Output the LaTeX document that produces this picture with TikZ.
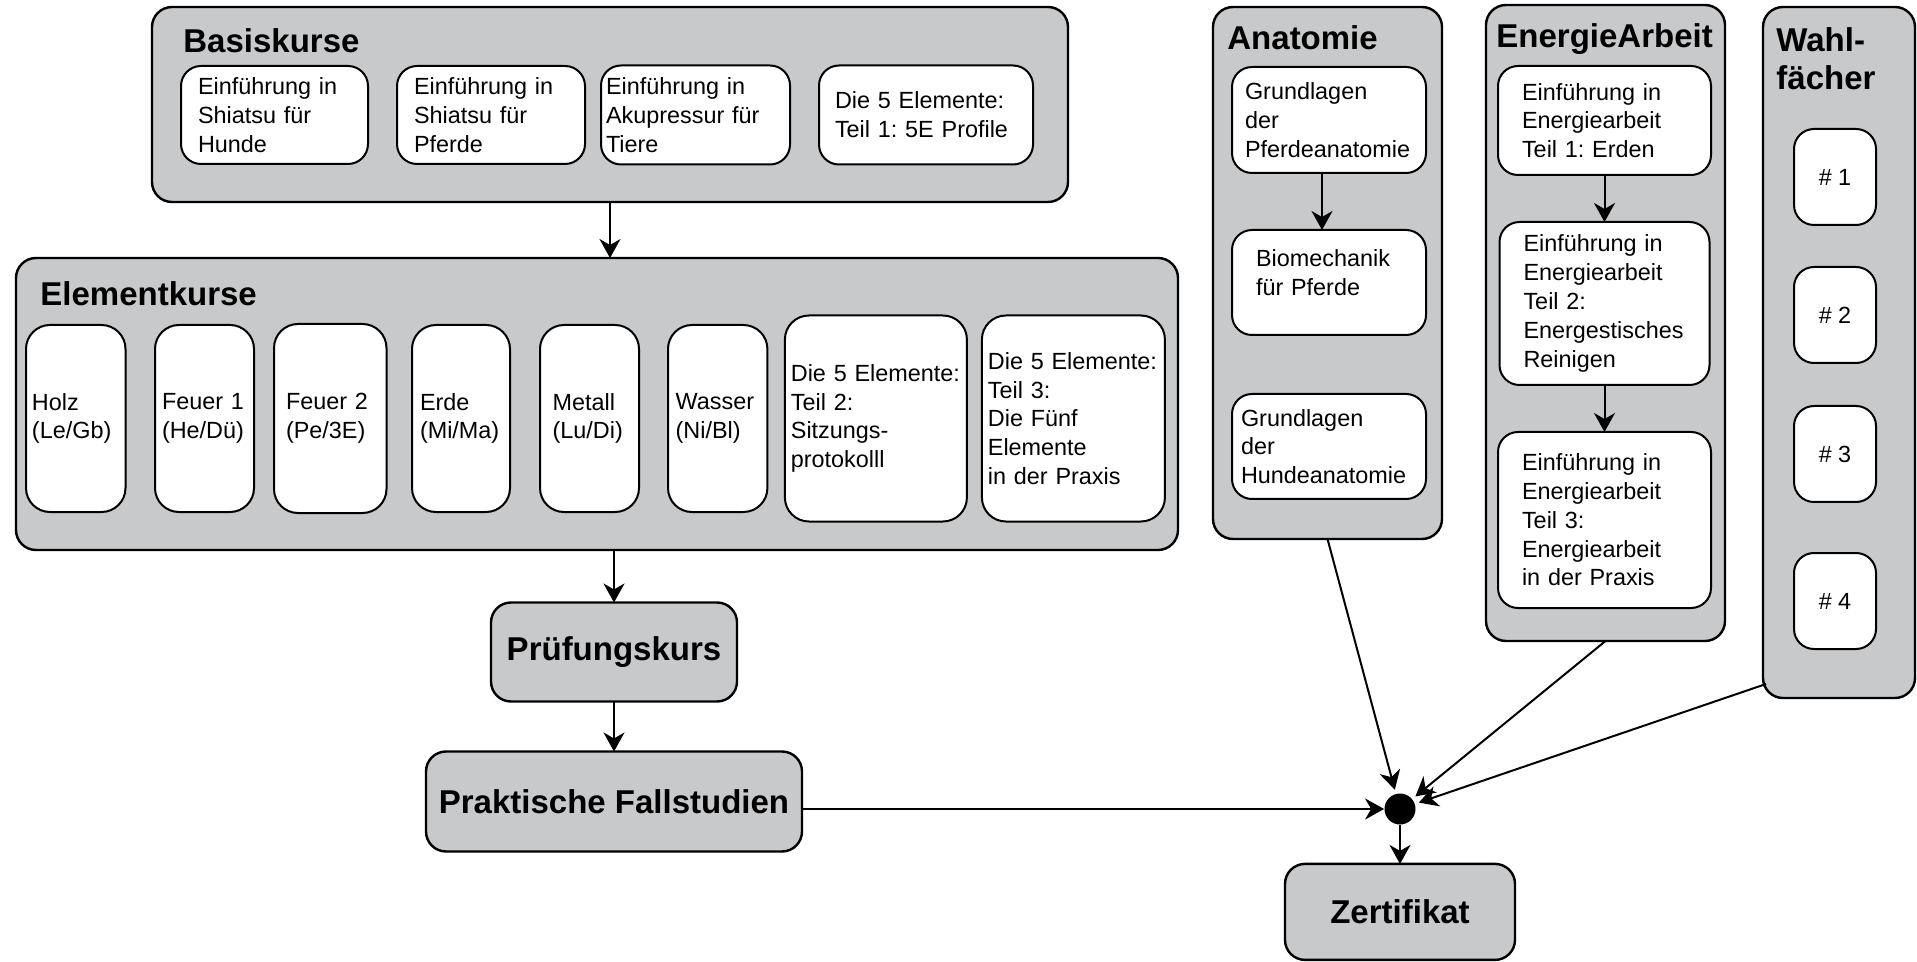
\documentclass[tikz,border=0pt]{standalone}
\usepackage{fontspec}
\setmainfont{Liberation Sans}
\frenchspacing
\definecolor{boxgray}{rgb}{0.784,0.788,0.796}
\usetikzlibrary{arrows.meta, positioning, calc}
\newcommand{\kursfont}{\fontsize{11.7}{14.4}\selectfont}
\newcommand{\titelfont}{\fontsize{16.5}{19}\selectfont\bfseries}
\tikzset{
  group/.style={rectangle, rounded corners=10pt, draw=black, fill=boxgray, line width=1.2pt, outer sep=0pt},
  grouptitle/.style={font=\titelfont, inner sep=0pt, anchor=base west, align=left},
  course/.style={rectangle, rounded corners=10pt, draw=black, fill=white, line width=1pt, outer sep=0pt, font=\kursfont, align=left},
  tallcourse/.style={course, rounded corners=12pt},
  stage/.style={rectangle, rounded corners=10pt, draw=black, fill=boxgray, line width=1.2pt, outer sep=0pt, font=\titelfont, align=center},
  junction/.style={circle, fill=black, inner sep=0pt, minimum size=15.5pt},
  arrow/.style={line width=1pt, -{Stealth[length=9.5pt, width=10.5pt, inset=3pt]}}
}

\begin{document}
\begin{tikzpicture}[x=0.5pt, y=-0.5pt]
  \useasboundingbox (0,0) rectangle (1917,962);

  % Basiskurse
  \node (basis) [group, minimum width=458pt, minimum height=97.5pt] at (610,104.5) {};
  \node (basistitle) [grouptitle] at (183,53) {Basiskurse};
  \node (hunde) [course, text width=76.5pt, inner xsep=8.5pt, minimum height=49pt] at (274.5,115) {Einführung in\\Shiatsu für\\Hunde};
  \node (pferde) [course, text width=77pt, inner xsep=8.5pt, minimum height=49pt, right=14.5pt of hunde] {Einführung in\\Shiatsu für\\Pferde};
  \node (tiere) [course, text width=89.5pt, inner xsep=2.5pt, minimum height=49.5pt, right=8pt of pferde] {Einführung in\\Akupressur für\\Tiere};
  \node (profile) [course, text width=91pt, inner xsep=8pt, minimum height=49.5pt, right=14.5pt of tiere] {Die 5 Elemente:\\Teil 1: 5E Profile};

  % Elementkurse
  \node (elemente) [group, minimum width=581pt, minimum height=146pt] at (597,404) {};
  \node (elementetitle) [grouptitle] at (40,305.5) {Elementkurse};
  \node (holz) [tallcourse, text width=43.75pt, inner xsep=3pt, minimum height=93.5pt] at (75.75,418.5) {Holz\\(Le/Gb)};
  \node (feuer1) [tallcourse, text width=42.5pt, inner xsep=3.5pt, minimum height=93.5pt, right=14.75pt of holz] {Feuer 1\\(He/Dü)};
  \node (feuer2) [tallcourse, text width=44.25pt, inner xsep=6pt, minimum height=94.5pt, right=10pt of feuer1] {Feuer 2\\(Pe/3E)};
  \node (erde) [tallcourse, text width=41pt, inner xsep=4pt, minimum height=93.5pt, right=12.75pt of feuer2] {Erde\\(Mi/Ma)};
  \node (metall) [tallcourse, text width=36.9pt, inner xsep=6.3pt, minimum height=93.5pt, right=15pt of erde] {Metall\\(Lu/Di)};
  \node (wasser) [tallcourse, text width=42pt, inner xsep=3.85pt, minimum height=93.5pt, right=14.5pt of metall] {Wasser\\(Ni/Bl)};
  \node (teil2) [tallcourse, text width=85pt, inner xsep=3pt, minimum height=103pt, right=8.75pt of wasser] {Die 5 Elemente:\\Teil 2:\\Sitzungs-\\protokolll};
  \node (teil3) [tallcourse, text width=85.5pt, inner xsep=3pt, minimum height=103pt, right=7.5pt of teil2] {Die 5 Elemente:\\Teil 3:\\Die Fünf\\Elemente\\in der Praxis};

  % Connections down the left column
  \draw [arrow] (basis.south) -- (basis.south |- elemente.north);

  \node (pruef) [stage, minimum width=123pt, minimum height=49.5pt] at (614,652) {Prüfungskurs};
  \node (praxis) [stage, minimum width=188pt, minimum height=50pt, below=25pt of pruef] {Praktische Fallstudien};

  \draw [arrow] (elemente.south -| pruef.north) -- (pruef.north);
  \draw [arrow] (pruef) -- (praxis);

  % Anatomie
  \node (anatomie) [group, minimum width=114.5pt, minimum height=266pt] at (1327.5,273) {};
  \node (anatomietitle) [grouptitle] at (1227,50) {Anatomie};
  \node (pferdeanat) [course, text width=84pt, inner xsep=6.5pt, minimum height=53pt] at (1329,120) {Grundlagen\\der\\Pferdeanatomie};
  \node (biomech) [course, text width=73pt, inner xsep=12pt, minimum height=52.5pt, below=28.5pt of pferdeanat] {Biomechanik\\für Pferde\\[-4.5pt]\mbox{}};
  \node (hundeanat) [course, text width=88pt, inner xsep=4.5pt, minimum height=52.5pt, below=29.5pt of biomech] {Grundlagen\\der\\Hundeanatomie};

  \draw [arrow] ([xshift=-3.5pt]pferdeanat.south) -- ([xshift=-3.5pt]biomech.north);

  % EnergieArbeit
  \node (energie) [group, minimum width=119.5pt, minimum height=318pt] at (1605.5,323) {};
  \node (energietitle) [grouptitle] at (1496,47.5) {EnergieArbeit};
  \node (erden) [course, text width=82.5pt, inner xsep=12pt, minimum height=54.5pt] at (1604.5,120.5) {Einführung in\\Energiearbeit\\Teil 1: Erden};
  \node (reinigen) [course, text width=81pt, inner xsep=12pt, minimum height=81.5pt, below=23.5pt of erden] {Einführung in\\Energiearbeit\\Teil 2:\\Energestisches\\Reinigen};
  \node (energiepraxis) [course, text width=82.5pt, inner xsep=12pt, minimum height=88pt, below=23.5pt of reinigen] {Einführung in\\Energiearbeit\\Teil 3:\\Energiearbeit\\in der Praxis};

  \draw [arrow] (erden) -- (reinigen);
  \draw [arrow] (reinigen) -- (energiepraxis);

  % Wahlfaecher
  \node (wahl) [group, minimum width=76pt, minimum height=345.5pt] at (1839,352.5) {};
  \node (wahltitle) [grouptitle, anchor=north west] at (1776,27.5) {Wahl-\\fächer};
  \node (wahl1) [course, align=center, minimum width=41pt, minimum height=48pt] at (1835,177) {\# 1};
  \node (wahl2) [course, align=center, minimum width=41pt, minimum height=48pt, below=21pt of wahl1] {\# 2};
  \node (wahl3) [course, align=center, minimum width=41pt, minimum height=48pt, below=21.5pt of wahl2] {\# 3};
  \node (wahl4) [course, align=center, minimum width=41pt, minimum height=48pt, below=25.5pt of wahl3] {\# 4};

  % Junction and certificate
  \node (knoten) [junction] at (1400,809) {};
  \node (zert) [stage, minimum width=115pt, minimum height=48pt, below=19.5pt of knoten] {Zertifikat};

  \draw [arrow] (praxis.east |- knoten) -- (knoten);
  \draw [arrow, shorten >=2pt] (anatomie.south) -- (knoten);
  \draw [arrow, shorten >=2pt] (energie.south) -- (knoten);
  \draw [arrow, shorten >=2pt] ([xshift=1.5pt, yshift=7pt]wahl.south west) -- (knoten);
  \draw [arrow] (knoten) -- (zert);
\end{tikzpicture}
\end{document}
